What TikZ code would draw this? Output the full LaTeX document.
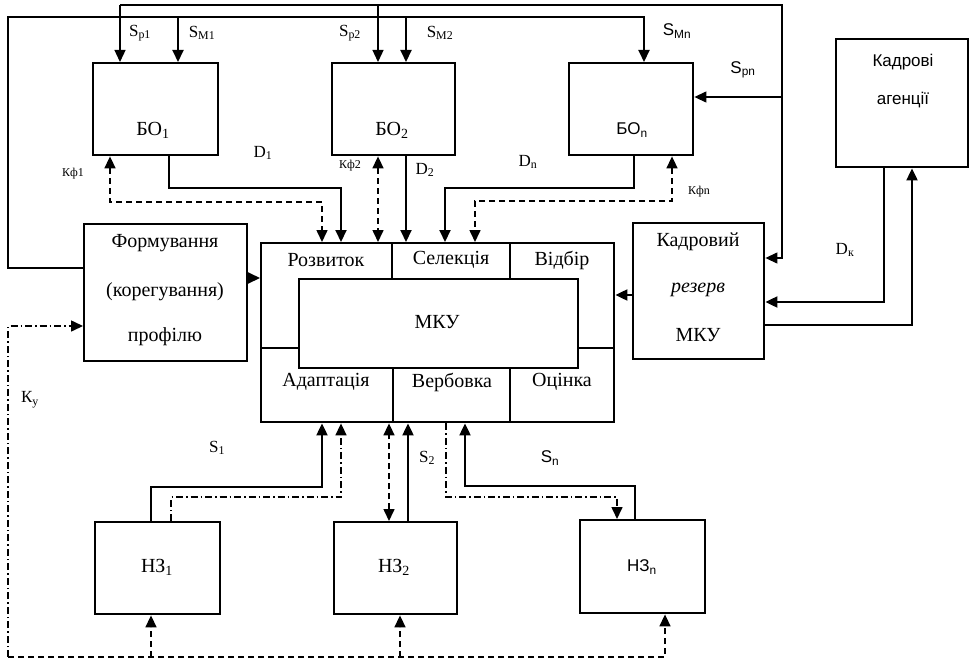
\documentclass[tikz,border=0pt]{standalone}
\usepackage{fontspec}
\setmainfont{Liberation Serif}
\newfontfamily\sansf{Liberation Sans}
\usetikzlibrary{arrows.meta,calc}
\tikzset{
 box/.style={draw,line width=2.4pt,rectangle,anchor=north west,inner sep=0pt},
 ln/.style={line width=2pt},
 thinln/.style={line width=1.3pt},
 arr/.style={-{Triangle[length=12pt,width=11pt]}},
 barr/.style={{Triangle[length=12pt,width=11pt]}-{Triangle[length=12pt,width=11pt]}},
 dsh/.style={line width=1.6pt,dash pattern=on 6pt off 4pt},
 dd/.style={line width=1.6pt,dash pattern=on 7pt off 3pt on 1.5pt off 3pt},
 txt/.style={font=\fontsize{20}{23}\selectfont,inner sep=0pt},
 stxt/.style={font=\sansf\fontsize{17}{20}\selectfont,inner sep=0pt},
 lab/.style={font=\fontsize{17}{20}\selectfont,inner sep=0pt},
 small/.style={font=\fontsize{12}{14}\selectfont,inner sep=0pt},
}
\begin{document}
\begin{tikzpicture}[x=1pt,y=-1pt]
\useasboundingbox (0,0) rectangle (973,661);
% boxes
\node[box,minimum width=125pt,minimum height=92pt] (bo1) at (92,62) {};
\node[box,minimum width=123pt,minimum height=92pt] (bo2) at (331,62) {};
\node[box,minimum width=124pt,minimum height=92pt] (bon) at (568,62) {};
\node[box,minimum width=132pt,minimum height=128pt] (ka) at (835,38) {};
\node[box,minimum width=163pt,minimum height=137pt] (form) at (83,223) {};
\node[box,minimum width=353pt,minimum height=179pt] (mku) at (260,242) {};
\node[box,minimum width=279pt,minimum height=89pt] (mkuin) at (298,278) {};
\node[box,minimum width=131pt,minimum height=136pt] (kr) at (632,222) {};
\node[box,minimum width=125pt,minimum height=92pt] (h1) at (94,521) {};
\node[box,minimum width=123pt,minimum height=92pt] (h2) at (333,521) {};
\node[box,minimum width=125pt,minimum height=93pt] (hn) at (579,519) {};
% MKU dividers
\draw[ln] (392,242) -- (392,278);
\draw[ln] (510,242) -- (510,278);
\draw[ln] (393,367) -- (393,421);
\draw[ln] (510,367) -- (510,421);
\draw[ln] (260,348) -- (298,348);
\draw[ln] (577,348) -- (613,348);
% box texts
\node[txt] (tbo1) at (153,130) {БО\textsubscript{1}};
\node[txt] (tbo2) at (392,130) {БО\textsubscript{2}};
\node[stxt] (tbon) at (632,130) {БО\textsubscript{n}};
\node[stxt] (tka1) at (903,62) {Кадрові};
\node[stxt] (tka2) at (903,100) {агенції};
\node[txt] (tf1) at (165,243) {Формування};
\node[txt] (tf2) at (165,292) {(корегування)};
\node[txt] (tf3) at (165,337) {профілю};
\node[txt] (tk1) at (698,242) {Кадровий};
\node[txt] (tk2) at (698,290) {\itshape резерв};
\node[txt] (tk3) at (698,335) {МКУ};
\node[txt] (tm1) at (326,260) {Розвиток};
\node[txt] (tm2) at (451,260) {Селекція};
\node[txt] (tm3) at (562,260) {Відбір};
\node[txt] (tm4) at (437,322) {МКУ};
\node[txt] (tm5) at (326,382) {Адаптація};
\node[txt] (tm6) at (452,382) {Вербовка};
\node[txt] (tm7) at (562,382) {Оцінка};
\node[txt] (th1) at (157,567) {НЗ\textsubscript{1}};
\node[txt] (th2) at (394,567) {НЗ\textsubscript{2}};
\node[stxt] (thn) at (642,567) {НЗ\textsubscript{n}};
% connector labels
\node[lab] (lsp1) at (140,33) {S\textsubscript{р1}};
\node[lab] (lsm1) at (202,33) {S\textsubscript{М1}};
\node[lab] (lsp2) at (350,33) {S\textsubscript{р2}};
\node[lab] (lsm2) at (440,33) {S\textsubscript{М2}};
\node[stxt] (lsmn) at (677,31) {S\textsubscript{Мn}};
\node[stxt] (lspn) at (743,70) {S\textsubscript{рn}};
\node[small] (lkf1) at (73,174) {Кф1};
\node[small] (lkf2) at (350,166) {Кф2};
\node[small] (lkfn) at (699,192) {Кфn};
\node[lab] (ld1) at (263,153) {D\textsubscript{1}};
\node[lab] (ld2) at (425,170) {D\textsubscript{2}};
\node[lab] (ldn) at (528,162) {D\textsubscript{n}};
\node[lab] (ldk) at (845,250) {D\textsubscript{к}};
\node[lab] (lky) at (30,400) {К\textsubscript{у}};
\node[lab] (ls1) at (217,448) {S\textsubscript{1}};
\node[lab] (ls2) at (427,458) {S\textsubscript{2}};
\node[stxt] (lsn) at (550,458) {S\textsubscript{n}};
% top thick loop (Формування -> БО)
\coordinate (tc1) at (178,17);
\coordinate (tc2) at (406,17);
\draw[ln,arr] ($(form.north west)+(0,45)$) -- (8,268) -- (8,17) -- (644,17) -- ($(bon.north west)+(76,0)$);
\draw[ln,arr] (tc1) -- ($(bo1.north west)+(86,0)$);
\draw[ln,arr] (tc2) -- ($(bo2.north west)+(75,0)$);
% top thin loop
\coordinate (tp1) at (120,5);
\coordinate (tp2) at (378,5);
\coordinate (tpn) at (782,97);
\draw[thinln,arr] (tp1) -- ($(bo1.north west)+(28,0)$);
\draw[thinln,arr] (tp1) -- (782,5) -- (782,258) -- ($(kr.north east)+(0,36)$);
\draw[thinln,arr] (tp2) -- ($(bo2.north west)+(47,0)$);
\draw[thinln,arr] (tpn) -- ($(bon.north east)+(0,35)$);
% BO -> MKU
\draw[dsh,barr] ($(bo1.south west)+(18,0)$) -- (110,202) -- (322,202) -- ($(mku.north west)+(62,0)$);
\draw[ln,arr] ($(bo1.south west)+(77,0)$) -- (169,188) -- (341,188) -- ($(mku.north west)+(81,0)$);
\draw[dsh,barr] ($(bo2.south west)+(47,0)$) -- ($(mku.north west)+(118,0)$);
\draw[ln,arr] ($(bo2.south west)+(75,0)$) -- ($(mku.north west)+(146,0)$);
\draw[ln,arr] ($(bon.south west)+(66,0)$) -- (634,188) -- (445,188) -- ($(mku.north west)+(185,0)$);
\draw[dsh,barr] ($(bon.south west)+(104,0)$) -- (672,201) -- (475,201) -- ($(mku.north west)+(215,0)$);
% side links
\draw[ln,arr] ($(form.north east)+(0,55)$) -- ($(mku.north west)+(0,36)$);
\draw[ln,arr] ($(kr.north west)+(0,73)$) -- ($(mku.north east)+(0,53)$);
\draw[ln,arr] ($(ka.south west)+(49,0)$) -- (884,302) -- ($(kr.north east)+(0,80)$);
\draw[ln,arr] ($(kr.north east)+(0,103)$) -- (912,325) -- ($(ka.south west)+(77,0)$);
% K_y feedback loop
\coordinate (bl) at (8,657);
\draw[dd,arr] (bl) -- (8,326) -- ($(form.north west)+(0,103)$);
\draw[dsh,arr] (bl) -- (665,657) -- ($(hn.south west)+(86,0)$);
\draw[dsh,arr] (151,657) -- ($(h1.south west)+(57,0)$);
\draw[dsh,arr] (400,657) -- ($(h2.south west)+(67,0)$);
% НЗ -> MKU
\draw[ln,arr] ($(h1.north west)+(57,0)$) -- (151,487) -- (322,487) -- ($(mku.south west)+(62,0)$);
\draw[dd,arr] ($(h1.north west)+(77,0)$) -- (171,497) -- (341,497) -- ($(mku.south west)+(81,0)$);
\draw[dsh,barr] ($(h2.north west)+(56,0)$) -- ($(mku.south west)+(129,0)$);
\draw[ln,arr] ($(h2.north west)+(75,0)$) -- ($(mku.south west)+(148,0)$);
\draw[ln,arr] ($(hn.north west)+(56,0)$) -- (635,486) -- (465,486) -- ($(mku.south west)+(205,0)$);
\draw[dd,arr] ($(mku.south west)+(186,0)$) -- (446,497) -- (617,497) -- ($(hn.north west)+(38,0)$);
\end{tikzpicture}
\end{document}
